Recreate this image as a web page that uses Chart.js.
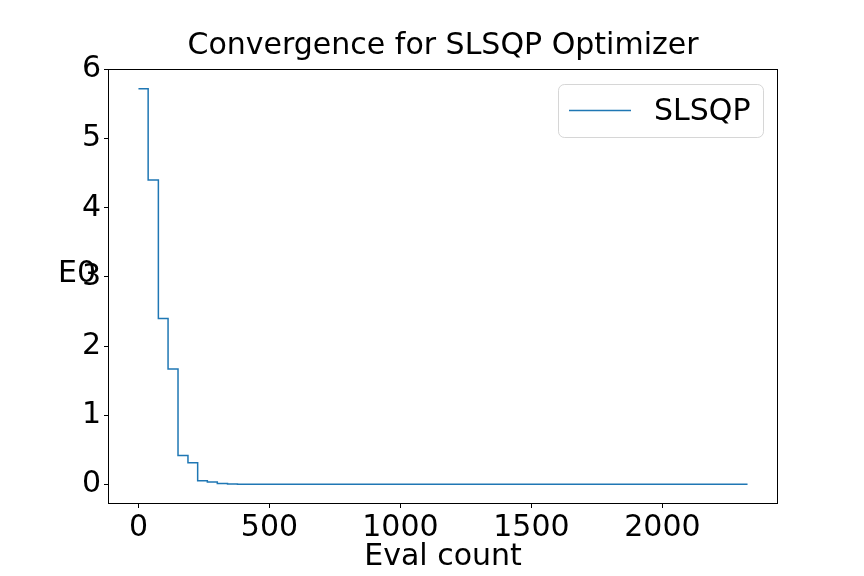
<!DOCTYPE html>
<html>
<head>
<meta charset="utf-8">
<title>Convergence for SLSQP Optimizer</title>
<script src="https://cdn.jsdelivr.net/npm/chart.js@4.4.1/dist/chart.umd.min.js"></script>
<style>
  html, body { margin: 0; padding: 0; background: #fff; }
  #wrap { width: 864px; height: 576px; }
</style>
</head>
<body>
<div id="wrap"><canvas id="convChart" width="864" height="576"></canvas></div>
<script>
// data (step points of the SLSQP run)
const evalCounts = [0, 37, 76, 113, 151, 189, 226, 263, 301, 340, 378, 2325];
const energies = [5.72, 4.40, 2.40, 1.67, 0.42, 0.315, 0.055, 0.036, 0.015, 0.007, 0.003, 0.003];
const xTicks = [0, 500, 1000, 1500, 2000];
const yTicks = [0, 1, 2, 3, 4, 5, 6];

const seriesName = "SLSQP";
const titleText = "Convergence for SLSQP Optimizer";
const xLabel = "Eval count";
const yLabel = "E0";

const FONT = '"DejaVu Sans", "Liberation Sans", sans-serif';
const LINE_COLOR = "#1f77b4";

// matplotlib style 5% margins around the data
function padRange(values) {
    const lo = Math.min(...values);
    const hi = Math.max(...values);
    const m = (hi - lo) * 0.05;
    return [lo - m, hi + m];
}
const [xMin, xMax] = padRange(evalCounts);
const [yMin, yMax] = padRange(energies);

const points = evalCounts.map((x, i) => ({ x: x, y: energies[i] }));

// frame, title, axis labels and legend box
const decorations = {
    id: "decorations",
    beforeDraw(chart) {
        const ctx = chart.ctx;
        ctx.save();
        ctx.fillStyle = "#fff";
        ctx.fillRect(0, 0, chart.width, chart.height);
        ctx.restore();
    },
    afterDatasetsDraw(chart) {
        const ctx = chart.ctx;
        const a = chart.chartArea;
        ctx.save();

        // spines
        ctx.strokeStyle = "#000";
        ctx.lineWidth = 1;
        ctx.strokeRect(Math.round(a.left) + 0.5, Math.round(a.top) + 0.5,
            Math.round(a.right - a.left) - 1, Math.round(a.bottom - a.top) - 1);

        ctx.fillStyle = "#000";
        ctx.font = "30px " + FONT;

        // title
        ctx.textAlign = "center";
        ctx.textBaseline = "alphabetic";
        ctx.fillText(titleText, (a.left + a.right) / 2, a.top - 15);

        // x label
        ctx.fillText(xLabel, (a.left + a.right) / 2, 565);

        // y label (horizontal, as in the original)
        ctx.textAlign = "left";
        ctx.fillText(yLabel, 58, 282);

        // legend
        const lw = 205, lh = 53;
        const lx = a.right - 15 - lw;
        const ly = a.top + 15;
        ctx.beginPath();
        ctx.roundRect(lx + 0.5, ly + 0.5, lw, lh, 6);
        ctx.fillStyle = "rgba(255,255,255,0.8)";
        ctx.fill();
        ctx.strokeStyle = "rgba(204,204,204,0.8)";
        ctx.lineWidth = 1;
        ctx.stroke();

        const my = ly + lh / 2;
        ctx.beginPath();
        ctx.moveTo(lx + 11, my);
        ctx.lineTo(lx + 73, my);
        ctx.strokeStyle = LINE_COLOR;
        ctx.lineWidth = 1.5;
        ctx.stroke();

        ctx.fillStyle = "#000";
        ctx.textAlign = "left";
        ctx.fillText(seriesName, lx + 96, ly + 36);

        ctx.restore();
    }
};

new Chart(document.getElementById("convChart"), {
    type: "line",
    data: {
        datasets: [
            {
                label: seriesName,
                data: points,
                borderColor: LINE_COLOR,
                borderWidth: 1.5,
                pointRadius: 0,
                stepped: "before",
                fill: false,
                tension: 0,
            },
        ],
    },
    options: {
        responsive: false,
        animation: false,
        devicePixelRatio: 1,
        layout: {
            padding: { left: 0, right: 86, top: 69, bottom: 0 },
        },
        plugins: {
            legend: { display: false },
            title: { display: false },
            tooltip: { enabled: false },
        },
        scales: {
            x: {
                type: "linear",
                min: xMin,
                max: xMax,
                afterBuildTicks(scale) {
                    scale.ticks = xTicks.map((v) => ({ value: v }));
                },
                afterFit(scale) {
                    scale.height = 72;
                },
                ticks: {
                    color: "#000",
                    padding: 2,
                    maxRotation: 0,
                    font: { family: FONT, size: 30 },
                    callback: (v) => String(v),
                },
                grid: {
                    drawOnChartArea: false,
                    drawTicks: true,
                    tickLength: 4,
                    color: "#000",
                    lineWidth: 1,
                },
                border: { display: false },
            },
            y: {
                type: "linear",
                min: yMin,
                max: yMax,
                afterBuildTicks(scale) {
                    scale.ticks = yTicks.map((v) => ({ value: v }));
                },
                afterFit(scale) {
                    scale.width = 108;
                },
                ticks: {
                    color: "#000",
                    padding: 3,
                    font: { family: FONT, size: 30 },
                    callback: (v) => String(v),
                },
                grid: {
                    drawOnChartArea: false,
                    drawTicks: true,
                    tickLength: 4,
                    color: "#000",
                    lineWidth: 1,
                },
                border: { display: false },
            },
        },
    },
    plugins: [decorations],
});
</script>
</body>
</html>
